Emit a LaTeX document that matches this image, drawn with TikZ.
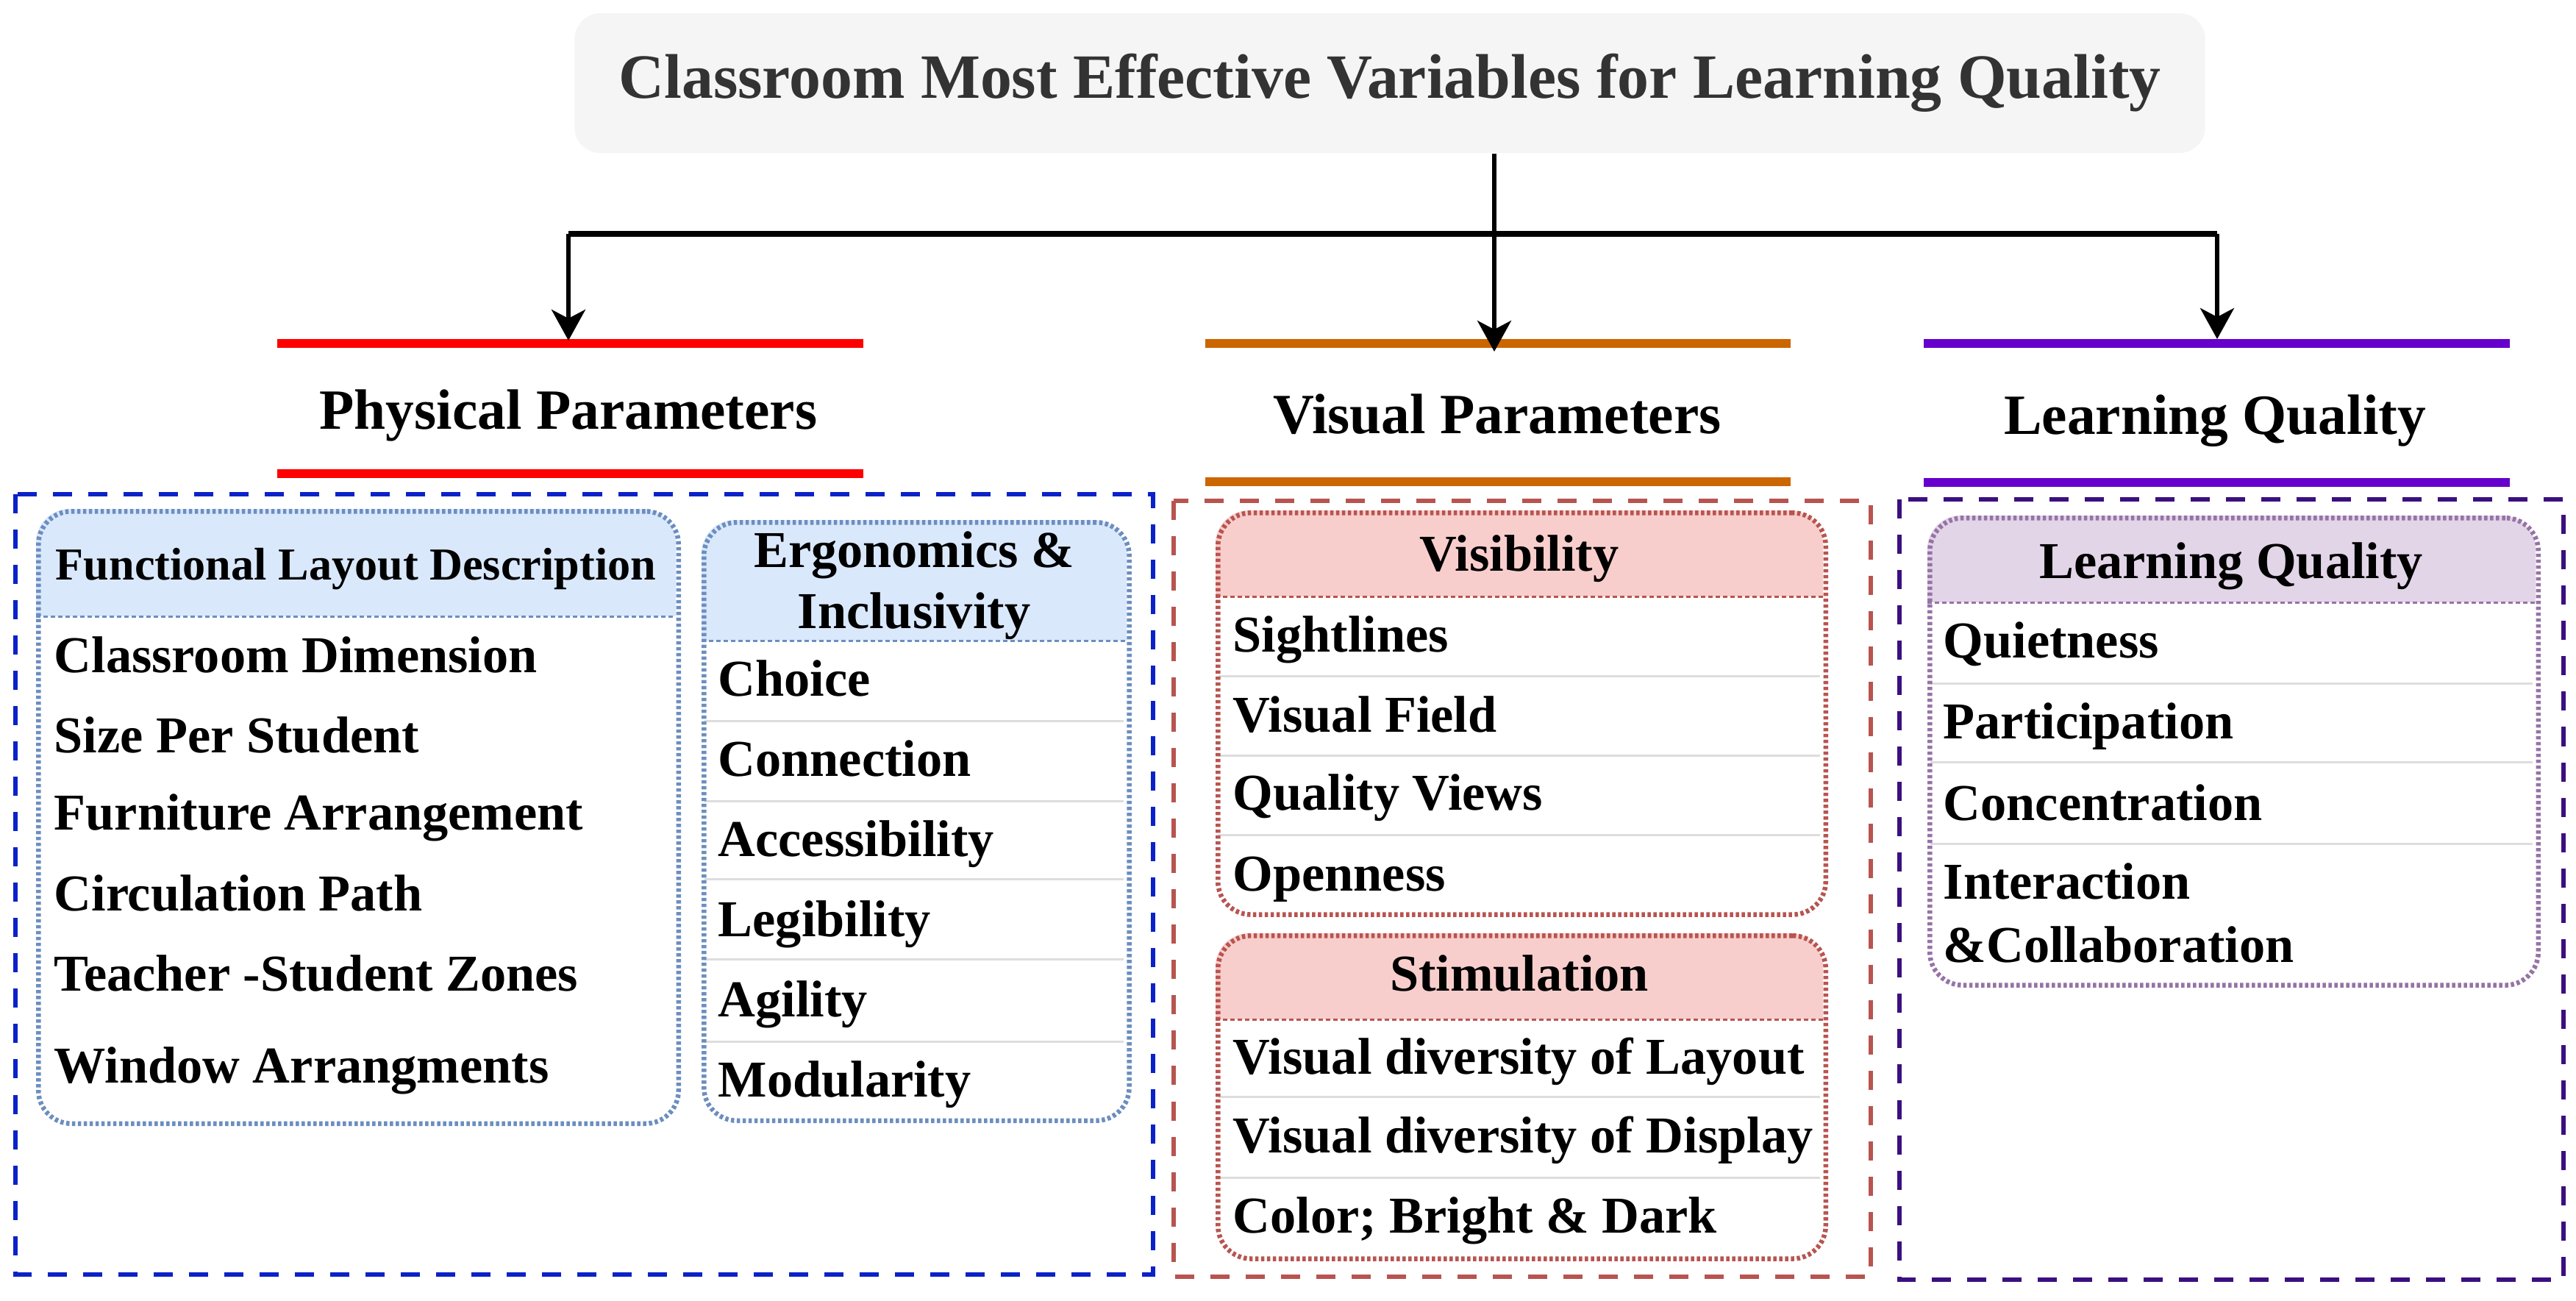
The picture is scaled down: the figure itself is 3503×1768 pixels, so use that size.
\documentclass[tikz,border=0pt]{standalone}
\usepackage{fontspec}
\setmainfont{Liberation Serif}
\usetikzlibrary{arrows.meta}
\definecolor{titlefill}{HTML}{F5F5F5}
\definecolor{titletext}{HTML}{333333}
\definecolor{hbluefill}{HTML}{DAE8FC}
\definecolor{hblueline}{HTML}{6C8EBF}
\definecolor{hredfill}{HTML}{F8CECC}
\definecolor{hredline}{HTML}{B85450}
\definecolor{hpurfill}{HTML}{E1D5E7}
\definecolor{hpurline}{HTML}{9673A6}
\definecolor{outblue}{HTML}{0A22C8}
\definecolor{outbrown}{HTML}{B85450}
\definecolor{outpur}{HTML}{3B0F80}
\definecolor{lred}{HTML}{FF0000}
\definecolor{lorange}{HTML}{CC6600}
\definecolor{lpur}{HTML}{6600CC}
\definecolor{rowgray}{HTML}{DDDDDD}
\begin{document}
\begin{tikzpicture}[x=0.01cm,y=-0.01cm,
  titlebox/.style={fill=titlefill, rounded corners=0.35cm, minimum width=22.16cm, minimum height=1.90cm, inner sep=0, text=titletext, font=\fontsize{24.4}{28}\selectfont\bfseries},
  headtext/.style={anchor=base, inner sep=0, font=\fontsize{22}{26}\selectfont\bfseries},
  boxhead/.style={anchor=base, inner sep=0, font=\fontsize{20}{24}\selectfont\bfseries},
  itemtext/.style={anchor=base west, inner sep=0, font=\fontsize{20}{24}\selectfont\bfseries},
  barline/.style={line width=0.12cm},
  outerbox/.style={dash pattern=on 0.26cm off 0.22cm, line width=0.065cm},
  dotbox/.style={dash pattern=on 0.045cm off 0.035cm, line width=0.065cm, rounded corners=0.45cm, inner sep=0, anchor=north west},
  sepline/.style={dash pattern=on 0.06cm off 0.04cm, line width=0.03cm},
  rowsep/.style={draw=rowgray, line width=0.03cm},
  conn/.style={line width=0.055cm},
  arrowconn/.style={conn, -{Stealth[length=0.42cm, width=0.46cm, inset=0.12cm]}}
]
\useasboundingbox (0,0) rectangle (3503,1768);

% ---------- title ----------
\node[titlebox] (title) at (1890,113) {Classroom Most Effective Variables for Learning Quality};

% ---------- connectors ----------
\coordinate (jn) at (2032,318);
\coordinate (jl) at (773,318);
\coordinate (jr) at (3015,318);
\coordinate (tphys) at (773,463);
\coordinate (tvis) at (2032,478);
\coordinate (tlq) at (3015,461);

% ---------- heading lines ----------
\draw[barline, lred] (377,467) -- (1174,467);
\draw[barline, lred] (377,644) -- (1174,644);
\draw[barline, lorange] (1639,467) -- (2435,467);
\draw[barline, lorange] (1639,655) -- (2435,655);
\draw[barline, lpur] (2616,467) -- (3413,467);
\draw[barline, lpur] (2616,656) -- (3413,656);

\draw[conn] (title.south -| jn) -- (jn);
\draw[line width=0.075cm] (jl) -- (jr);
\draw[arrowconn] (jl) -- (tphys);
\draw[arrowconn] (jn) -- (tvis);
\draw[arrowconn] (jr) -- (tlq);

% ---------- headings ----------
\node[headtext] (hphys) at (773,583) {Physical Parameters};
\node[headtext] (hvis) at (2036,589) {Visual Parameters};
\node[headtext] (hlq) at (3012,590) {Learning Quality};

% ---------- outer dashed boxes ----------
\draw[outerbox, outblue] (21,672) rectangle (1568,1733);
\draw[outerbox, outbrown] (1596,681) rectangle (2544,1736);
\draw[outerbox, outpur] (2583,679) rectangle (3486,1740);

% ---------- Functional Layout Description ----------
\fill[hbluefill] (49,838) [rounded corners=0.45cm] -- (49,692) -- (919,692) [sharp corners] -- (919,838) -- cycle;
\draw[sepline, hblueline] (49,838) -- (919,838);
\node[dotbox, draw=hblueline, minimum width=8.70cm, minimum height=8.32cm] (flbox) at (49,692) {};
\node[boxhead, font=\fontsize{17.7}{21}\selectfont\bfseries] (flhead) at (484,788) {Functional Layout Description};
\node[itemtext] (fl1) at (73,914) {Classroom Dimension};
\node[itemtext] (fl2) at (73,1023) {Size Per Student};
\node[itemtext] (fl3) at (73,1128) {Furniture Arrangement};
\node[itemtext] (fl4) at (73,1238) {Circulation Path};
\node[itemtext] (fl5) at (73,1347) {Teacher -Student Zones};
\node[itemtext] (fl6) at (73,1472) {Window Arrangments};

% ---------- Ergonomics & Inclusivity ----------
\fill[hbluefill] (954,871) [rounded corners=0.45cm] -- (954,707) -- (1532,707) [sharp corners] -- (1532,871) -- cycle;
\foreach \yy in {980,1089,1195,1304,1416} \draw[rowsep] (958,\yy) -- (1528,\yy);
\draw[sepline, hblueline] (954,871) -- (1532,871);
\node[dotbox, draw=hblueline, minimum width=5.78cm, minimum height=8.13cm] (ergbox) at (954,707) {};
\node[boxhead] (erghead1) at (1243,771) {Ergonomics \&};
\node[boxhead] (erghead2) at (1243,854) {Inclusivity};
\node[itemtext] (erg1) at (976,946) {Choice};
\node[itemtext] (erg2) at (976,1055) {Connection};
\node[itemtext] (erg3) at (976,1164) {Accessibility};
\node[itemtext] (erg4) at (976,1273) {Legibility};
\node[itemtext] (erg5) at (976,1382) {Agility};
\node[itemtext] (erg6) at (976,1491) {Modularity};

% ---------- Visibility ----------
\fill[hredfill] (1653,811) [rounded corners=0.45cm] -- (1653,694) -- (2479,694) [sharp corners] -- (2479,811) -- cycle;
\foreach \yy in {919,1027,1135} \draw[rowsep] (1657,\yy) -- (2475,\yy);
\draw[sepline, hredline] (1653,811) -- (2479,811);
\node[dotbox, draw=hredline, minimum width=8.26cm, minimum height=5.46cm] (visbox) at (1653,694) {};
\node[boxhead] (vishead) at (2066,776) {Visibility};
\node[itemtext] (vis1) at (1676,886) {Sightlines};
\node[itemtext] (vis2) at (1676,995) {Visual Field};
\node[itemtext] (vis3) at (1676,1101) {Quality Views};
\node[itemtext] (vis4) at (1676,1211) {Openness};

% ---------- Stimulation ----------
\fill[hredfill] (1653,1386) [rounded corners=0.45cm] -- (1653,1269) -- (2479,1269) [sharp corners] -- (2479,1386) -- cycle;
\foreach \yy in {1491,1601} \draw[rowsep] (1657,\yy) -- (2475,\yy);
\draw[sepline, hredline] (1653,1386) -- (2479,1386);
\node[dotbox, draw=hredline, minimum width=8.26cm, minimum height=4.39cm] (stimbox) at (1653,1269) {};
\node[boxhead] (stimhead) at (2066,1347) {Stimulation};
\node[itemtext] (stim1) at (1676,1460) {Visual diversity of Layout};
\node[itemtext] (stim2) at (1676,1567) {Visual diversity of Display};
\node[itemtext] (stim3) at (1676,1676) {Color; Bright \& Dark};

% ---------- Learning Quality ----------
\fill[hpurfill] (2621,819) [rounded corners=0.45cm] -- (2621,701) -- (3448,701) [sharp corners] -- (3448,819) -- cycle;
\foreach \yy in {929,1036,1147} \draw[rowsep] (2625,\yy) -- (3444,\yy);
\draw[sepline, hpurline] (2621,819) -- (3448,819);
\node[dotbox, draw=hpurline, minimum width=8.27cm, minimum height=6.35cm] (lqbox) at (2621,701) {};
\node[boxhead] (lqhead) at (3034,786) {Learning Quality};
\node[itemtext] (lq1) at (2642,894) {Quietness};
\node[itemtext] (lq2) at (2642,1004) {Participation};
\node[itemtext] (lq3) at (2642,1115) {Concentration};
\node[itemtext] (lq4) at (2642,1222) {Interaction};
\node[itemtext] (lq5) at (2642,1308) {\&Collaboration};
\end{tikzpicture}
\end{document}
